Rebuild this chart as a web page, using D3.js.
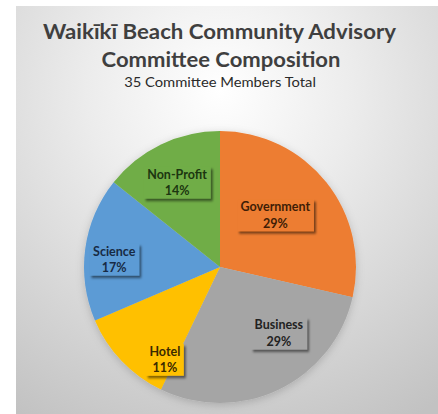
<!DOCTYPE html>
<html>
<head>
<meta charset="utf-8">
<script src="https://cdn.jsdelivr.net/npm/d3@7"></script>
<style>
  body { margin: 0; background: #fff; }
  svg { display: block; }
</style>
</head>
<body>
<svg id="chart"></svg>
<script>
// data
const categories = ['Government', 'Business', 'Hotel', 'Science', 'Non-Profit'];
const members = [10, 10, 4, 6, 5];
const percentLabels = ['29%', '29%', '11%', '17%', '14%'];
const titleLines = ['Waikīkī Beach Community Advisory', 'Committee Composition'];
const subtitle = '35 Committee Members Total';

// styling / layout
const colors = ['#ED7D31', '#A5A5A5', '#FFC000', '#5B9BD5', '#70AD47'];
const textColors = ['#3f1d06', '#222222', '#3a2a00', '#172a44', '#1c3610'];
// label placement: angle shift (deg) from slice middle, radius fraction
const labelPlacement = [[-4.8, 0.56], [-16, 0.65], [-15.4, 0.79], [-3.4, 0.78], [-1.1, 0.70]];
// measured heading lines: [center x, baseline y, width] to match the original typeface width
const headingBoxes = [[219.5, 39, 353], [221, 67, 239], [220, 87, 192]];

const width = 438, height = 414;
const cx = 220, cy = 267, radius = 136;

const svg = d3.select('#chart').attr('width', width).attr('height', height);
const defs = svg.append('defs');

// background gradient
const grad = defs.append('radialGradient')
  .attr('id', 'bg')
  .attr('gradientUnits', 'userSpaceOnUse')
  .attr('cx', 220).attr('cy', 90).attr('r', 380);
grad.append('stop').attr('offset', '0%').attr('stop-color', '#ffffff');
grad.append('stop').attr('offset', '35%').attr('stop-color', '#ececec');
grad.append('stop').attr('offset', '100%').attr('stop-color', '#c2c2c2');

const boxShadow = defs.append('filter').attr('id', 'boxShadow')
  .attr('x', '-20%').attr('y', '-20%').attr('width', '150%').attr('height', '160%');
boxShadow.append('feDropShadow')
  .attr('dx', 2).attr('dy', 2.5).attr('stdDeviation', 1.3)
  .attr('flood-color', '#000').attr('flood-opacity', 0.5);

const pieShadow = defs.append('filter').attr('id', 'pieShadow')
  .attr('x', '-20%').attr('y', '-20%').attr('width', '140%').attr('height', '140%');
pieShadow.append('feDropShadow')
  .attr('dx', 0).attr('dy', 2).attr('stdDeviation', 4)
  .attr('flood-color', '#000').attr('flood-opacity', 0.18);

svg.append('rect')
  .attr('x', 16).attr('y', 6)
  .attr('width', width - 16).attr('height', height - 6)
  .attr('fill', 'url(#bg)');

// headings: title lines plus subtitle, each squeezed to its measured width
const headings = titleLines.map(t => ({ text: t, bold: true }))
  .concat([{ text: subtitle, bold: false }]);

svg.selectAll('.heading')
  .data(headings)
  .enter().append('text')
  .attr('class', 'heading')
  .attr('text-anchor', 'middle')
  .style('font-family', 'Lato, "Open Sans", sans-serif')
  .style('font-weight', d => d.bold ? 'bold' : 'normal')
  .style('font-size', d => d.bold ? '21px' : '13.5px')
  .style('fill', d => d.bold ? '#3f3f3f' : '#2a2a2a')
  .text(d => d.text)
  .each(function (d, i) {
    const [x, y, w] = headingBoxes[i];
    const natural = this.getComputedTextLength();
    d3.select(this).attr('transform', `translate(${x},${y}) scale(${w / natural},1)`);
  });

// pie
const pie = d3.pie().sort(null).value(d => d)(members);
const arc = d3.arc().innerRadius(0).outerRadius(radius);

const g = svg.append('g').attr('transform', `translate(${cx},${cy})`);

g.append('g')
  .attr('filter', 'url(#pieShadow)')
  .selectAll('path')
  .data(pie)
  .enter().append('path')
  .attr('d', arc)
  .attr('fill', (d, i) => colors[i]);

// labels
const labels = g.selectAll('.label')
  .data(pie)
  .enter().append('g')
  .attr('class', 'label')
  .attr('transform', (d, i) => {
    const [shift, frac] = labelPlacement[i];
    const a = (d.startAngle + d.endAngle) / 2 + shift * Math.PI / 180;
    const r = radius * frac;
    return `translate(${r * Math.sin(a)},${-r * Math.cos(a)})`;
  });

const box = labels.append('rect')
  .attr('fill', (d, i) => colors[i])
  .attr('filter', 'url(#boxShadow)');

const txt = labels.append('text')
  .attr('text-anchor', 'middle')
  .style('font-family', 'Lato, "Open Sans", sans-serif')
  .style('font-weight', 'bold')
  .style('font-size', '12.5px')
  .style('fill', (d, i) => textColors[i]);

txt.append('tspan').attr('x', 0).attr('y', -3.5).text((d, i) => categories[i]);
txt.append('tspan').attr('x', 0).attr('y', 13).text((d, i) => percentLabels[i]);

txt.each(function (d, i) {
  const b = this.getBBox();
  d3.select(box.nodes()[i])
    .attr('x', b.x - 3.5)
    .attr('y', -15.5)
    .attr('width', b.width + 7)
    .attr('height', 32);
});
</script>
</body>
</html>
